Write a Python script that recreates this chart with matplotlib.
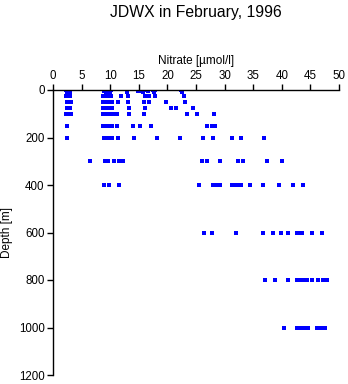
import matplotlib
matplotlib.use("Agg")
import matplotlib.pyplot as plt

# Nitrate [umol/l] values observed at each sampling depth [m]
n_0 = [2.3, 2.6, 9.0, 9.4, 9.8, 10.1, 12.9, 15.0, 15.4, 16.5, 17.5, 17.8, 22.3]
n_5 = [2.4, 2.8, 8.9, 9.5, 10.0, 14.9, 15.6, 16.6, 17.7, 22.5]
n_10 = [2.5, 3.0, 9.2, 9.9, 12.9, 15.8, 17.6, 22.6]
n_25 = [2.3, 2.7, 3.0, 8.8, 9.3, 9.8, 10.2, 11.9, 13.1, 16.0, 16.8, 17.8, 22.9]
n_50 = [2.4, 2.9, 3.1, 8.8, 9.3, 9.9, 10.4, 11.4, 13.1, 15.9, 16.8, 19.8, 23.1]
n_75 = [2.4, 2.8, 3.0, 8.8, 9.4, 10.0, 10.4, 13.3, 16.1, 20.6, 21.5, 24.5]
n_100 = [2.3, 2.7, 3.2, 8.8, 9.4, 10.0, 10.5, 11.2, 13.3, 15.9, 23.4, 25.1, 28.1]
n_150 = [2.5, 8.8, 9.3, 9.8, 10.4, 11.2, 14.0, 15.2, 17.2, 26.9, 27.8, 28.3]
n_200 = [2.5, 9.0, 9.6, 10.3, 11.3, 14.1, 18.2, 22.2, 26.3, 28.0, 31.3, 32.9, 36.9]
n_300 = [6.4, 9.1, 9.6, 10.7, 11.6, 12.3, 26.0, 26.9, 29.2, 32.3, 33.2, 37.4, 40.0]
n_400 = [8.9, 9.8, 11.6, 25.5, 28.0, 28.6, 29.2, 31.3, 31.8, 32.3, 32.9, 34.5,
         36.7, 39.5, 42.0, 43.7]
n_600 = [26.4, 27.8, 32.0, 36.8, 38.5, 39.8, 41.1, 42.6, 43.1, 43.5, 45.3, 47.0]
n_800 = [37.1, 38.8, 41.1, 42.6, 43.2, 43.7, 44.4, 45.3, 46.3, 47.2, 47.9]
n_1000 = [40.4, 42.6, 43.0, 43.5, 44.1, 44.6, 46.1, 46.6, 47.1, 47.6]

depths = [0, 5, 10, 25, 50, 75, 100, 150, 200, 300, 400, 600, 800, 1000]
rows = [n_0, n_5, n_10, n_25, n_50, n_75, n_100, n_150, n_200, n_300, n_400,
        n_600, n_800, n_1000]

x_ticks = [0, 5, 10, 15, 20, 25, 30, 35, 40, 45, 50]
y_ticks = [0, 200, 400, 600, 800, 1000, 1200]

plt.rcParams['font.family'] = ['Liberation Sans', 'DejaVu Sans']

fig = plt.figure(figsize=(3.48, 3.84), dpi=100)
ax = fig.add_axes([53 / 348, 1 - 375 / 384, (339 - 53) / 348, (375 - 90) / 384])

for d, vals in zip(depths, rows):
    ax.plot(vals, [d] * len(vals), linestyle='none', marker='s',
            markersize=2.3, markeredgewidth=0, color='#0000ff')

ax.set_xlim(0, 50)
ax.set_ylim(1200, 0)
ax.set_xticks(x_ticks)
ax.set_yticks(y_ticks)
ax.xaxis.tick_top()
ax.xaxis.set_label_position('top')
ax.set_xlabel('Nitrate [µmol/l]', fontsize=8.5, labelpad=4)
ax.set_ylabel('Depth [m]', fontsize=8.5, labelpad=4)
ax.tick_params(axis='both', direction='out', length=4, width=1,
               labelsize=8.3, pad=2)
for s in ['right', 'bottom']:
    ax.spines[s].set_visible(False)
for s in ['left', 'top']:
    ax.spines[s].set_linewidth(1)

fig.text(196 / 348, 1 - 12 / 384, 'JDWX in February, 1996', ha='center',
         va='center', fontsize=11.3)

fig.savefig('out.png', dpi=100)
